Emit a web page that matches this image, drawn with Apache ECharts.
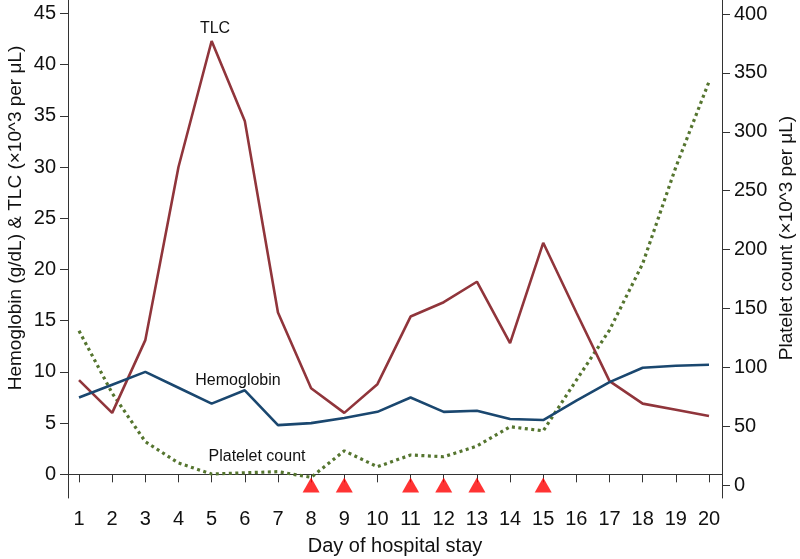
<!DOCTYPE html>
<html>
<head>
<meta charset="utf-8">
<script src="https://cdn.jsdelivr.net/npm/echarts@6/dist/echarts.min.js"></script>
<style>html,body{margin:0;padding:0;background:#fff}#c{width:800px;height:559px}</style>
</head>
<body>
<div id="c"></div>
<script>
const days = [1,2,3,4,5,6,7,8,9,10,11,12,13,14,15,16,17,18,19,20];
const hemoglobin = [7.5,8.75,10.0,8.45,6.9,8.2,4.8,5.0,5.5,6.1,7.5,6.1,6.2,5.4,5.3,7.2,9.0,10.4,10.6,10.7];
const tlc = [9.2,6.0,13.1,30.0,42.3,34.5,15.8,8.4,6.0,8.8,15.4,16.8,18.8,12.8,22.6,15.8,9.1,6.9,6.3,5.7];
const platelet = [131,78,36.8,18.7,9.3,10.4,11.3,6.5,29,15.5,25.5,24,33,49.5,46,89,131.6,188,270,342.5];
const transfusionDays = [8,9,11,12,13,15];
const leftTicks = [0,5,10,15,20,25,30,35,40,45];
const rightTicks = [0,50,100,150,200,250,300,350,400];

const font = 'Liberation Sans, Arial, sans-serif';
const axisCol = '#333';
const chart = echarts.init(document.getElementById('c'), null, {renderer:'canvas'});
chart.setOption({
  animation:false,
  backgroundColor:'#fff',
  grid:{left:68,right:78,top:0,bottom:61,containLabel:false},
  xAxis:{type:'value',min:0.668,max:20.392,
    axisLine:{show:true,lineStyle:{color:axisCol,width:1}},
    axisTick:{show:true,length:8,customValues:days,lineStyle:{color:axisCol}},
    axisLabel:{customValues:days,fontSize:20,color:'#111',fontFamily:font,margin:11},
    splitLine:{show:false}},
  yAxis:[
    {type:'value',min:-2.31,max:46.3,position:'left',
     axisLine:{show:true,lineStyle:{color:axisCol,width:1}},
     axisTick:{show:true,length:8,customValues:leftTicks,lineStyle:{color:axisCol}},
     axisLabel:{customValues:leftTicks,fontSize:20,color:'#111',fontFamily:font,margin:12},
     splitLine:{show:false}},
    {type:'value',min:-11.04,max:411.9,position:'right',
     axisLine:{show:true,lineStyle:{color:axisCol,width:1}},
     axisTick:{show:true,length:8,customValues:rightTicks,lineStyle:{color:axisCol}},
     axisLabel:{customValues:rightTicks,fontSize:20,color:'#111',fontFamily:font,margin:12},
     splitLine:{show:false}}
  ],
  series:[
    {name:'Platelet count',type:'line',yAxisIndex:1,data:days.map((d,i)=>[d,platelet[i]]),
     showSymbol:false,lineStyle:{color:'#55752f',width:3.2,type:[3,3.5],cap:'butt'}},
    {name:'TLC',type:'line',yAxisIndex:0,data:days.map((d,i)=>[d,tlc[i]]),
     showSymbol:false,lineStyle:{color:'#90353b',width:2.6}},
    {name:'Hemoglobin',type:'line',yAxisIndex:0,data:days.map((d,i)=>[d,hemoglobin[i]]),
     showSymbol:false,lineStyle:{color:'#1a476f',width:2.6}},
    {name:'Transfusion',type:'scatter',yAxisIndex:1,data:transfusionDays.map(d=>[d,0]),
     symbol:'triangle',symbolSize:[17,15],itemStyle:{color:'#ff0000'}}
  ],
  graphic:[
    {type:'text',x:16,y:218,rotation:Math.PI/2,style:{text:'Hemoglobin (g/dL) & TLC (×10^3 per μL)',fontSize:19,fontFamily:font,fill:'#111',textAlign:'center',textVerticalAlign:'middle'}},
    {type:'text',x:787,y:238,rotation:Math.PI/2,style:{text:'Platelet count (×10^3 per μL)',fontSize:19,fontFamily:font,fill:'#111',textAlign:'center',textVerticalAlign:'middle'}},
    {type:'text',x:395,y:546,style:{text:'Day of hospital stay',fontSize:20,fontFamily:font,fill:'#111',textAlign:'center',textVerticalAlign:'middle'}},
    {type:'text',x:215,y:29,style:{text:'TLC',fontSize:16,fontFamily:font,fill:'#111',textAlign:'center',textVerticalAlign:'middle'}},
    {type:'text',x:238,y:381,style:{text:'Hemoglobin',fontSize:16,fontFamily:font,fill:'#111',textAlign:'center',textVerticalAlign:'middle'}},
    {type:'text',x:257,y:457,style:{text:'Platelet count',fontSize:16,fontFamily:font,fill:'#111',textAlign:'center',textVerticalAlign:'middle'}}
  ]
});
</script>
</body>
</html>
